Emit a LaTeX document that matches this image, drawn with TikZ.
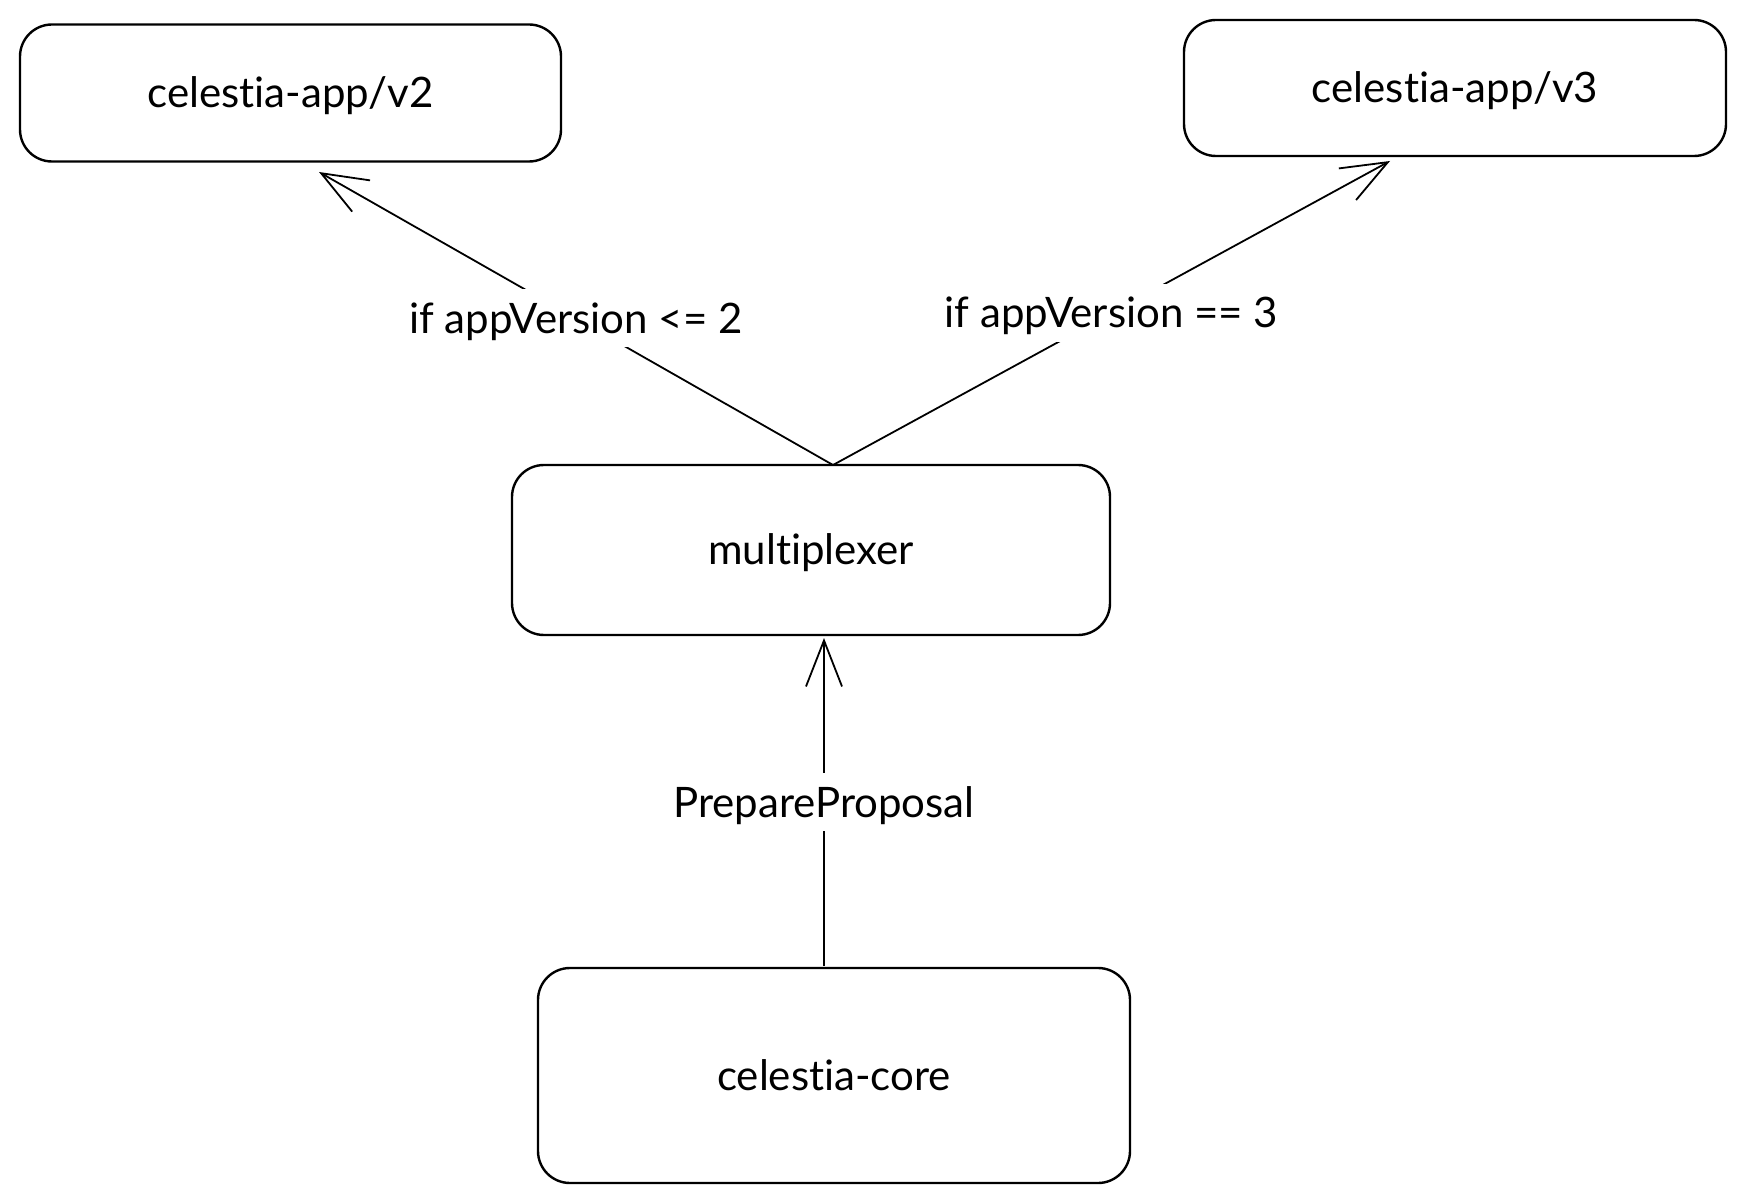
\documentclass[tikz,border=0pt]{standalone}
\usepackage{fontspec}
\setmainfont{Lato}[Ligatures=NoCommon]
\usetikzlibrary{arrows.meta}
\tikzset{
  box/.style={draw, line width=1.2pt, rounded corners=16pt, font=\fontsize{21}{25}\selectfont, inner sep=0pt, text height=19pt, text depth=4pt},
  conn/.style={line width=0.9pt, -{Straight Barb[length=23pt, width=18pt, line width=0.9pt]}},
  lbl/.style={fill=white, font=\fontsize{21}{25}\selectfont, inner sep=3pt, text height=19pt, text depth=4pt}
}
\begin{document}
\begin{tikzpicture}[x=0.5pt, y=-0.5pt]
\useasboundingbox (0,0) rectangle (1746,1203);
\node[box, minimum width=270.5pt, minimum height=68.5pt] (v2) at (290.5,93) {celestia-app/v2};
\node[box, minimum width=271pt, minimum height=68pt] (v3) at (1455,88) {celestia-app/v3};
\node[box, minimum width=299pt, minimum height=85pt] (mux) at (811,550) {multiplexer};
\node[box, minimum width=296pt, minimum height=107.5pt] (core) at (834,1075.5) {celestia-core};
\coordinate (muxtop) at (833,465);
\coordinate (v2tip) at (319,172);
\coordinate (v3tip) at (1390,161);
\coordinate (coretop) at (824,966);
\coordinate (muxbot) at (824,638);
\draw[conn] (muxtop) -- node[lbl, pos=0.5] {if appVersion <= 2} (v2tip);
\draw[conn] (muxtop) -- node[lbl, pos=0.5] {if appVersion == 3} (v3tip);
\draw[conn] (coretop) -- node[lbl, pos=0.5] {PrepareProposal} (muxbot);
\end{tikzpicture}
\end{document}
